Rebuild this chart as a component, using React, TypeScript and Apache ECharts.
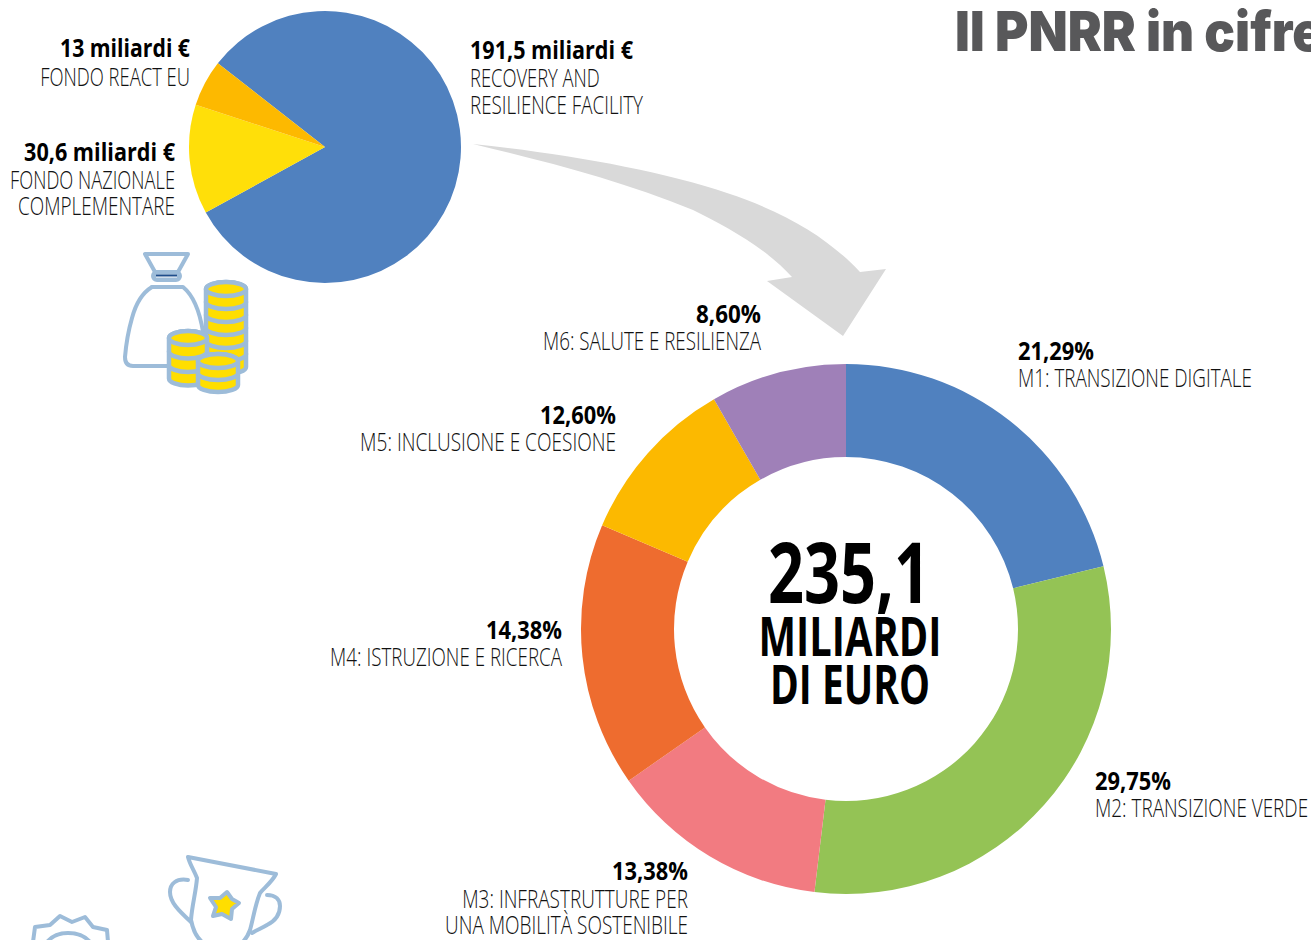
import React, { useEffect, useRef } from "react";
import * as echarts from "echarts";

const fundingNames = ["Recovery and Resilience Facility", "Fondo nazionale complementare", "Fondo REACT EU"];
const fundingValues = [191.5, 30.6, 13];
const fundingColors = ["#5081bf", "#ffdf09", "#fdb900"];

const missionNames = ["M1", "M2", "M3", "M4", "M5", "M6"];
// The printed percentages and the drawn arcs differ in the reference, so both are kept.
const missionPrinted = ["21,29%", "29,75%", "13,38%", "14,38%", "12,60%", "8,60%"];
const missionArcShares = [21.2, 30.7, 13.4, 16.1, 10.3, 8.3];
const missionColors = ["#5081bf", "#94c355", "#f27b81", "#ee6c2f", "#fcb900", "#9f80b8"];

const canvas = document.createElement("canvas");
const ctx = canvas.getContext("2d")!;

function label(text: string, ax: number, base: number, width: number, align: string, weight: number, size: number, fill: string, family = "Open Sans") {
  ctx.font = `${weight} ${size}px "${family}"`;
  const w = ctx.measureText(text).width;
  return {
    type: "text",
    x: ax,
    y: base - size * 0.36,
    scaleX: width / w,
    silent: true,
    style: { text, fontFamily: family, fontWeight: weight, fontSize: size, fill, textAlign: align, textVerticalAlign: "middle" },
  };
}
const head = (t: string, ax: number, base: number, w: number, align = "right") => label(t, ax, base - 1.5, w, align, 700, 25, "#000000");
const sub = (t: string, ax: number, base: number, w: number, align = "right") => label(t, ax, base - 1, w, align, 300, 25, "#111111");

let shapeId = 0;
function pathEl(d: string, style: any) {
  const name = "shape" + shapeId++;
  echarts.graphic.registerShape(name, echarts.graphic.extendPath(d, {}) as any);
  return { type: name, silent: true, style };
}

const LINE = "#9dbcd9";
const GOLD = "#ffde00";
const lineStyle = { fill: "none", stroke: LINE, lineWidth: 4, lineCap: "round", lineJoin: "round" };

function coinStack(cx: number, topY: number, rx: number, ry: number, step: number, n: number) {
  const out: any[] = [];
  const l = cx - rx;
  const r = cx + rx;
  for (let i = n - 1; i >= 0; i--) {
    const y = topY + i * step;
    out.push(
      pathEl(
        `M${l} ${y}L${l} ${y + step}A${rx} ${ry} 0 0 0 ${r} ${y + step}L${r} ${y}A${rx} ${ry} 0 0 0 ${l} ${y}Z`,
        { fill: GOLD, stroke: LINE, lineWidth: 4.5, lineJoin: "round" }
      )
    );
  }
  out.push({
    type: "ellipse",
    silent: true,
    shape: { cx, cy: topY, rx, ry },
    style: { fill: GOLD, stroke: LINE, lineWidth: 4.5 },
  });
  return out;
}

function buildGraphics() {
  const els: any[] = [];
  // arrow
  els.push(
    pathEl(
      "M473 144C560 153 660 170 727 193C790 214 830 240 860 272L886 269L843 336L767 281L792 277C765 247 725 226 693 210C620 180 540 160 473 144Z",
      { fill: "#d9d9d9" }
    )
  );
  // bag
  els.push(pathEl("M145 254L188 254L178 272L155 272Z", { ...lineStyle, fill: "#ffffff" }));
  els.push(pathEl("M152 287L183 287C194 296 200 313 203 332", lineStyle));
  els.push(pathEl("M152 287C142 293 136 303 132 318C128 332 126 345 125 357C125 363 128 366 133 366L172 366", lineStyle));
  els.push({ type: "rect", silent: true, shape: { x: 153, y: 272, width: 27, height: 8, r: 4 }, style: { fill: "#9dbcd9", stroke: LINE, lineWidth: 4 } });
  els.push({ type: "rect", silent: true, shape: { x: 156, y: 274.5, width: 21, height: 3 }, style: { fill: "#ffffff" } });
  els.push({ type: "line", silent: true, shape: { x1: 156, y1: 275.5, x2: 177, y2: 275.5 }, style: { stroke: "#1f4e8c", lineWidth: 2 } });
  // coins
  els.push(...coinStack(226, 289, 20, 7, 13, 6));
  els.push(...coinStack(188, 338, 19, 7, 13.5, 3));
  els.push(...coinStack(218, 361, 20, 7, 12, 2));
  // trophy
  els.push(pathEl("M188 857L276 874C272 882 264 888 260 893C255 905 253 920 250 930C248 936 245 940 241 944L205 944C198 940 193 930 191 920C192 905 196 892 197 878C194 870 190 865 188 857Z", lineStyle));
  els.push(pathEl("M188 880C176 878 170 884 170 892C170 902 178 910 191 922", lineStyle));
  els.push(pathEl("M267 895C276 895 280 900 280 906C280 914 275 921 267 925C262 928 257 930 252 933", lineStyle));
  els.push(pathEl("M227 892L232 899L239 903L232 909L231 919L222 914L213 916L216 907L210 898L220 898Z", { fill: GOLD, stroke: LINE, lineWidth: 4, lineJoin: "round" }));
  // rosette
  els.push(pathEl("M33 942L35 927L50 925L60 916L72 922L85 917L93 927L107 930L108 942", lineStyle));
  els.push(pathEl("M47 942C52 936 60 933 68 933C77 933 85 936 90 942", lineStyle));

  // title
  els.push(label("Il PNRR in cifre", 955, 51, 368, "left", 900, 55, "#58585a", "Inter"));

  // funding labels
  els.push(head("13 miliardi €", 190, 58, 130), sub("FONDO REACT EU", 190, 86, 150));
  els.push(head("30,6 miliardi €", 175, 162, 151), sub("FONDO NAZIONALE", 175, 189, 165), sub("COMPLEMENTARE", 175, 215, 157));
  els.push(head("191,5 miliardi €", 470, 60, 163, "left"), sub("RECOVERY AND", 470, 87, 130, "left"), sub("RESILIENCE FACILITY", 470, 114, 173, "left"));

  // mission labels
  els.push(head(missionPrinted[0], 1018, 361, 76, "left"), sub(missionNames[0] + ": TRANSIZIONE DIGITALE", 1018, 387, 234, "left"));
  els.push(head(missionPrinted[1], 1095, 791, 76, "left"), sub(missionNames[1] + ": TRANSIZIONE VERDE", 1095, 817, 213, "left"));
  els.push(head(missionPrinted[2], 688, 881, 76), sub(missionNames[2] + ": INFRASTRUTTURE PER", 688, 908, 226), sub("UNA MOBILITÀ SOSTENIBILE", 688, 934, 243));
  els.push(head(missionPrinted[3], 562, 640, 76), sub(missionNames[3] + ": ISTRUZIONE E RICERCA", 562, 666, 232));
  els.push(head(missionPrinted[4], 616, 425, 76), sub(missionNames[4] + ": INCLUSIONE E COESIONE", 616, 451, 256));
  els.push(head(missionPrinted[5], 761, 324, 65), sub(missionNames[5] + ": SALUTE E RESILIENZA", 761, 350, 218));

  // centre
  els.push(label("235,1", 849, 601, 162, "center", 700, 84, "#000000"));
  els.push(label("MILIARDI", 850, 655, 183, "center", 700, 53, "#000000"));
  els.push(label("DI EURO", 850, 703, 160, "center", 700, 53, "#000000"));
  return els;
}

export default function App() {
  const ref = useRef<HTMLDivElement>(null);
  useEffect(() => {
    const chart = echarts.init(ref.current!, null, { renderer: "svg" });
    chart.setOption({
      animation: false,
      backgroundColor: "#ffffff",
      series: [
        {
          type: "pie",
          center: [325, 147],
          radius: [0, 136],
          startAngle: 142,
          clockwise: true,
          silent: true,
          label: { show: false },
          labelLine: { show: false },
          data: fundingNames.map((name, i) => ({ name, value: fundingValues[i], itemStyle: { color: fundingColors[i] } })),
        },
        {
          type: "pie",
          center: [846, 629],
          radius: [172, 265],
          startAngle: 90,
          clockwise: true,
          silent: true,
          label: { show: false },
          labelLine: { show: false },
          data: missionNames.map((name, i) => ({ name, value: missionArcShares[i], itemStyle: { color: missionColors[i] } })),
        },
      ],
      graphic: { elements: buildGraphics() },
    });
    return () => chart.dispose();
  }, []);
  return <div ref={ref} style={{ position: "fixed", left: 0, top: 0, width: 1311, height: 940, overflow: "hidden" }} />;
}
